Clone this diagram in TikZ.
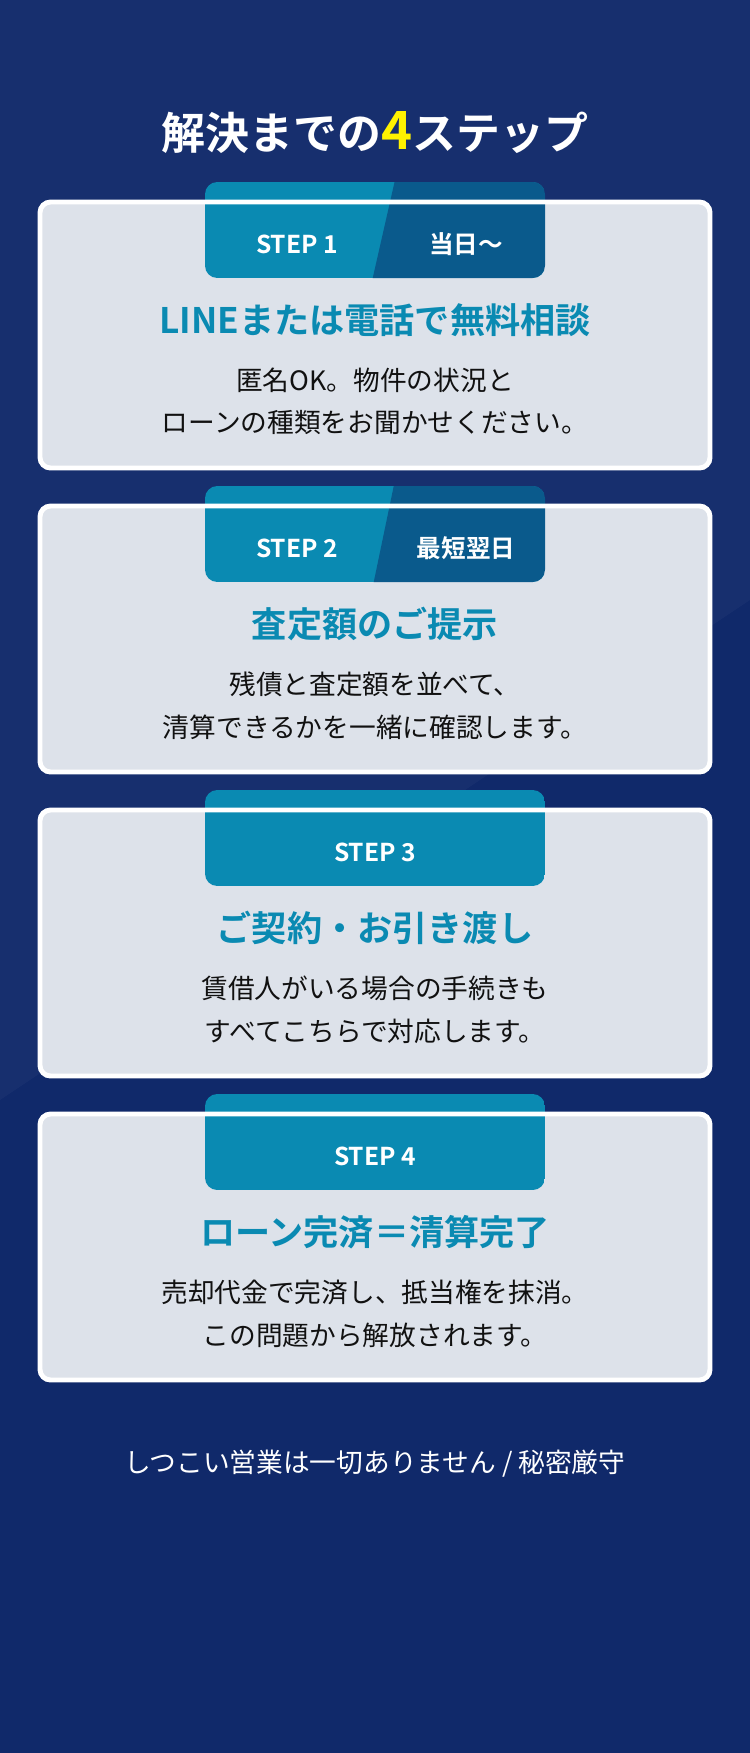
\documentclass[tikz,border=0pt]{standalone}
\usepackage{fontspec}
\setmainfont{Noto Sans CJK JP}[BoldFont={Noto Sans CJK JP Bold}]
\definecolor{navy}{HTML}{10296A}
\definecolor{teal}{HTML}{0A8AB2}
\definecolor{deep}{HTML}{0A5A8C}
\definecolor{cardbg}{HTML}{DDE2EA}
\definecolor{ink}{HTML}{111111}
\tikzset{
  card/.style={draw=white, line width=1.4pt, fill=cardbg, rounded corners=3pt},
  head/.style={text=teal, font=\bfseries\fontsize{10}{12}\selectfont},
  body/.style={text=ink, font=\fontsize{7.6}{9}\selectfont},
  tabtxt/.style={text=white, font=\bfseries\fontsize{7}{8}\selectfont},
}
\newcommand\steptab[2]{% top y, divider? 
  \begin{scope}
    \clip[rounded corners=3.5pt] (205,#1-20) rectangle (545,#1+76);
    \fill[teal] (205,#1-20) rectangle (545,#1+76);
    #2
  \end{scope}}
\begin{document}
\begin{tikzpicture}[x=0.1mm,y=-0.1mm]
\useasboundingbox (0,0) rectangle (750,1753);
\fill[navy] (0,0) rectangle (750,1753);
\fill[white,opacity=0.03] (0,0) -- (750,0) -- (750,600) -- (0,1100) -- cycle;

% title
\node[text=white, font=\bfseries\fontsize{12.5}{14}\selectfont] (title) at (375,133)
  {解決までの\textcolor{yellow}{\fontsize{15}{16}\selectfont 4}ステップ};

% step 1
\fill[cardbg, rounded corners=3pt] (40,202) rectangle (710,468);
\steptab{202}{\fill[deep] (395,180) -- (560,180) -- (560,290) -- (370,290) -- cycle;}
\draw[card, fill=none] (40,202) rectangle (710,468);
\node[tabtxt] (s1) at (297,244) {STEP 1};
\node[tabtxt] (t1) at (466,244) {当日〜};
\node[head] (h1) at (375,320) {LINEまたは電話で無料相談};
\node[body] (b1a) at (375,380) {匿名OK。物件の状況と};
\node[body] (b1b) at (375,423) {ローンの種類をお聞かせください。};

% step 2
\fill[cardbg, rounded corners=3pt] (40,506) rectangle (710,772);
\steptab{506}{\fill[deep] (395,480) -- (560,480) -- (560,600) -- (370,600) -- cycle;}
\draw[card, fill=none] (40,506) rectangle (710,772);
\node[tabtxt] (s2) at (297,548) {STEP 2};
\node[tabtxt] (t2) at (466,548) {最短翌日};
\node[head] (h2) at (375,624) {査定額のご提示};
\node[body] (b2a) at (375,684) {残債と査定額を並べて、};
\node[body] (b2b) at (375,727) {清算できるかを一緒に確認します。};

% step 3
\fill[cardbg, rounded corners=3pt] (40,810) rectangle (710,1076);
\steptab{810}{}
\draw[card, fill=none] (40,810) rectangle (710,1076);
\node[tabtxt] (s3) at (375,852) {STEP 3};
\node[head] (h3) at (375,928) {ご契約・お引き渡し};
\node[body] (b3a) at (375,988) {賃借人がいる場合の手続きも};
\node[body] (b3b) at (375,1031) {すべてこちらで対応します。};

% step 4
\fill[cardbg, rounded corners=3pt] (40,1114) rectangle (710,1380);
\steptab{1114}{}
\draw[card, fill=none] (40,1114) rectangle (710,1380);
\node[tabtxt] (s4) at (375,1156) {STEP 4};
\node[head] (h4) at (375,1232) {ローン完済＝清算完了};
\node[body] (b4a) at (375,1292) {売却代金で完済し、抵当権を抹消。};
\node[body] (b4b) at (375,1335) {この問題から解放されます。};

% footer
\node[text=white, font=\fontsize{7.6}{9}\selectfont] (foot) at (375,1464)
  {しつこい営業は一切ありません / 秘密厳守};
\end{tikzpicture}
\end{document}
